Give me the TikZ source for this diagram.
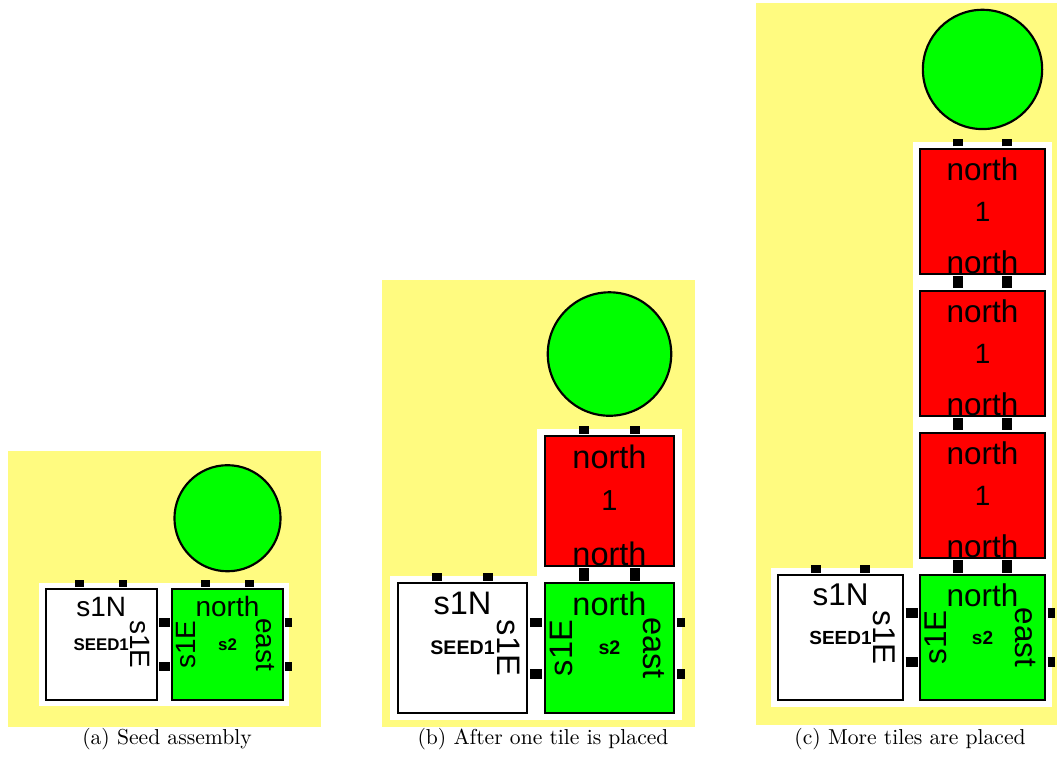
\documentclass[tikz,border=0pt]{standalone}
\usepackage{fontspec}
\newfontfamily\tilefont{Liberation Sans}
\usetikzlibrary{calc}

\definecolor{padyellow}{RGB}{255,251,128}
\definecolor{tilegreen}{RGB}{0,255,0}
\definecolor{tilered}{RGB}{255,0,0}

\begin{document}
\begin{tikzpicture}[tilebox/.style={rectangle,draw,line width=1pt,minimum size=0.88cm,inner sep=0pt,font=\tilefont\fontsize{3.8}{4}\selectfont\bfseries},
        redbox/.style={tilebox,fill=tilered,font=\tilefont\fontsize{5.6}{6}\selectfont},
        ball/.style={circle,draw,line width=1pt,fill=tilegreen,minimum size=0.84cm,inner sep=0pt},
        lab/.style={inner sep=0pt,font=\tilefont\fontsize{6.3}{7}\selectfont},
        capt/.style={anchor=base}]
    \useasboundingbox (0,0) rectangle (17.2,12.416);

    % (a) seed assembly
    \begin{scope}[shift={(1.647,1.928)},scale=2.055,every node/.append style={transform shape},bond/.style={line width=1.4mm}]
        \fill[padyellow] (-0.738,-0.653) rectangle (1.74,1.532);
        \fill[white] (-0.49,-0.49) rectangle (1.49,0.49);
        \node[ball] (ca) at (1,1) {};
        \node[tilebox,fill=white] (sa) at (0,0) {SEED1};
        \node[tilebox,fill=tilegreen] (ga) at (1,0) {s2};

        \draw[bond] ($(sa.north east)!0.31!(sa.south east)$) -- ($(ga.north west)!0.31!(ga.south west)$);
        \draw[bond] ($(sa.north east)!0.69!(sa.south east)$) -- ($(ga.north west)!0.69!(ga.south west)$);
        \draw[bond] ($(sa.north west)!0.31!(sa.north east)$) -- +(0,0.055);
        \draw[bond] ($(sa.north west)!0.69!(sa.north east)$) -- +(0,0.055);
        \draw[bond] ($(ga.north west)!0.31!(ga.north east)$) -- +(0,0.055);
        \draw[bond] ($(ga.north west)!0.69!(ga.north east)$) -- +(0,0.055);
        \draw[bond] ($(ga.north east)!0.31!(ga.south east)$) -- +(0.055,0);
        \draw[bond] ($(ga.north east)!0.69!(ga.south east)$) -- +(0.055,0);

        \node[lab] (sa-n) at (0,0.3) {s1N};
        \node[lab,rotate=-90] (sa-e) at (0.31,0) {s1E};
        \node[lab] (ga-n) at (1,0.3) {north};
        \node[lab,rotate=90] (ga-w) at (0.67,0) {s1E};
        \node[lab,rotate=-90] (ga-e) at (1.3,0) {east};
    \end{scope}

    % (b) one tile placed
    \begin{scope}[shift={(7.526,1.871)},scale=2.392,every node/.append style={transform shape},bond/.style={line width=1.6mm}]
        \fill[padyellow] (-0.548,-0.535) rectangle (1.58,2.503);
        \fill[white] (-0.49,-0.49) rectangle (1.49,0.49);
        \fill[white] (0.51,0) rectangle (1.49,1.49);
        \node[ball] (cb) at (1,2) {};
        \node[tilebox,fill=white] (sb) at (0,0) {SEED1};
        \node[tilebox,fill=tilegreen] (gb) at (1,0) {s2};
        \node[redbox] (rb1) at (1,1) {1};

        \draw[bond] ($(sb.north east)!0.31!(sb.south east)$) -- ($(gb.north west)!0.31!(gb.south west)$);
        \draw[bond] ($(sb.north east)!0.69!(sb.south east)$) -- ($(gb.north west)!0.69!(gb.south west)$);
        \draw[bond] ($(rb1.south west)!0.31!(rb1.south east)$) -- ($(gb.north west)!0.31!(gb.north east)$);
        \draw[bond] ($(rb1.south west)!0.69!(rb1.south east)$) -- ($(gb.north west)!0.69!(gb.north east)$);
        \draw[bond] ($(sb.north west)!0.31!(sb.north east)$) -- +(0,0.055);
        \draw[bond] ($(sb.north west)!0.69!(sb.north east)$) -- +(0,0.055);
        \draw[bond] ($(rb1.north west)!0.31!(rb1.north east)$) -- +(0,0.055);
        \draw[bond] ($(rb1.north west)!0.69!(rb1.north east)$) -- +(0,0.055);
        \draw[bond] ($(gb.north east)!0.31!(gb.south east)$) -- +(0.055,0);
        \draw[bond] ($(gb.north east)!0.69!(gb.south east)$) -- +(0.055,0);

        \node[lab] (sb-n) at (0,0.3) {s1N};
        \node[lab,rotate=-90] (sb-e) at (0.31,0) {s1E};
        \node[lab] (gb-n) at (1,0.3) {north};
        \node[lab,rotate=90] (gb-w) at (0.67,0) {s1E};
        \node[lab,rotate=-90] (gb-e) at (1.3,0) {east};
        \node[lab] (rb1-n) at (1,1.3) {north};
        \node[lab,anchor=base] (rb1-s) at (1,0.56) {north};
    \end{scope}

    % (c) more tiles placed
    \begin{scope}[shift={(13.677,2.042)},scale=2.311,every node/.append style={transform shape},bond/.style={line width=1.55mm}]
        \fill[padyellow] (-0.595,-0.616) rectangle (1.525,4.468);
        \fill[white] (-0.49,-0.49) rectangle (1.49,0.49);
        \fill[white] (0.51,0) rectangle (1.49,3.49);
        \node[ball] (cc) at (1,4) {};
        \node[tilebox,fill=white] (sc) at (0,0) {SEED1};
        \node[tilebox,fill=tilegreen] (gc) at (1,0) {s2};
        \node[redbox] (rc1) at (1,1) {1};
        \node[redbox] (rc2) at (1,2) {1};
        \node[redbox] (rc3) at (1,3) {1};

        \draw[bond] ($(sc.north east)!0.31!(sc.south east)$) -- ($(gc.north west)!0.31!(gc.south west)$);
        \draw[bond] ($(sc.north east)!0.69!(sc.south east)$) -- ($(gc.north west)!0.69!(gc.south west)$);
        \draw[bond] ($(rc1.south west)!0.31!(rc1.south east)$) -- ($(gc.north west)!0.31!(gc.north east)$);
        \draw[bond] ($(rc1.south west)!0.69!(rc1.south east)$) -- ($(gc.north west)!0.69!(gc.north east)$);
        \draw[bond] ($(rc2.south west)!0.31!(rc2.south east)$) -- ($(rc1.north west)!0.31!(rc1.north east)$);
        \draw[bond] ($(rc2.south west)!0.69!(rc2.south east)$) -- ($(rc1.north west)!0.69!(rc1.north east)$);
        \draw[bond] ($(rc3.south west)!0.31!(rc3.south east)$) -- ($(rc2.north west)!0.31!(rc2.north east)$);
        \draw[bond] ($(rc3.south west)!0.69!(rc3.south east)$) -- ($(rc2.north west)!0.69!(rc2.north east)$);
        \draw[bond] ($(sc.north west)!0.31!(sc.north east)$) -- +(0,0.055);
        \draw[bond] ($(sc.north west)!0.69!(sc.north east)$) -- +(0,0.055);
        \draw[bond] ($(rc3.north west)!0.31!(rc3.north east)$) -- +(0,0.055);
        \draw[bond] ($(rc3.north west)!0.69!(rc3.north east)$) -- +(0,0.055);
        \draw[bond] ($(gc.north east)!0.31!(gc.south east)$) -- +(0.055,0);
        \draw[bond] ($(gc.north east)!0.69!(gc.south east)$) -- +(0.055,0);

        \node[lab] (sc-n) at (0,0.3) {s1N};
        \node[lab,rotate=-90] (sc-e) at (0.31,0) {s1E};
        \node[lab] (gc-n) at (1,0.3) {north};
        \node[lab,rotate=90] (gc-w) at (0.67,0) {s1E};
        \node[lab,rotate=-90] (gc-e) at (1.3,0) {east};
        \node[lab] (rc1-n) at (1,1.3) {north};
        \node[lab,anchor=base] (rc1-s) at (1,0.56) {north};
        \node[lab] (rc2-n) at (1,2.3) {north};
        \node[lab,anchor=base] (rc2-s) at (1,1.56) {north};
        \node[lab] (rc3-n) at (1,3.3) {north};
        \node[lab,anchor=base] (rc3-s) at (1,2.56) {north};
    \end{scope}

    \node[capt] (capa) at (2.717,0.293) {(a) Seed assembly};
    \node[capt] (capb) at (8.836,0.293) {(b) After one tile is placed};
    \node[capt] (capc) at (14.808,0.293) {(c) More tiles are placed};
\end{tikzpicture}
\end{document}
